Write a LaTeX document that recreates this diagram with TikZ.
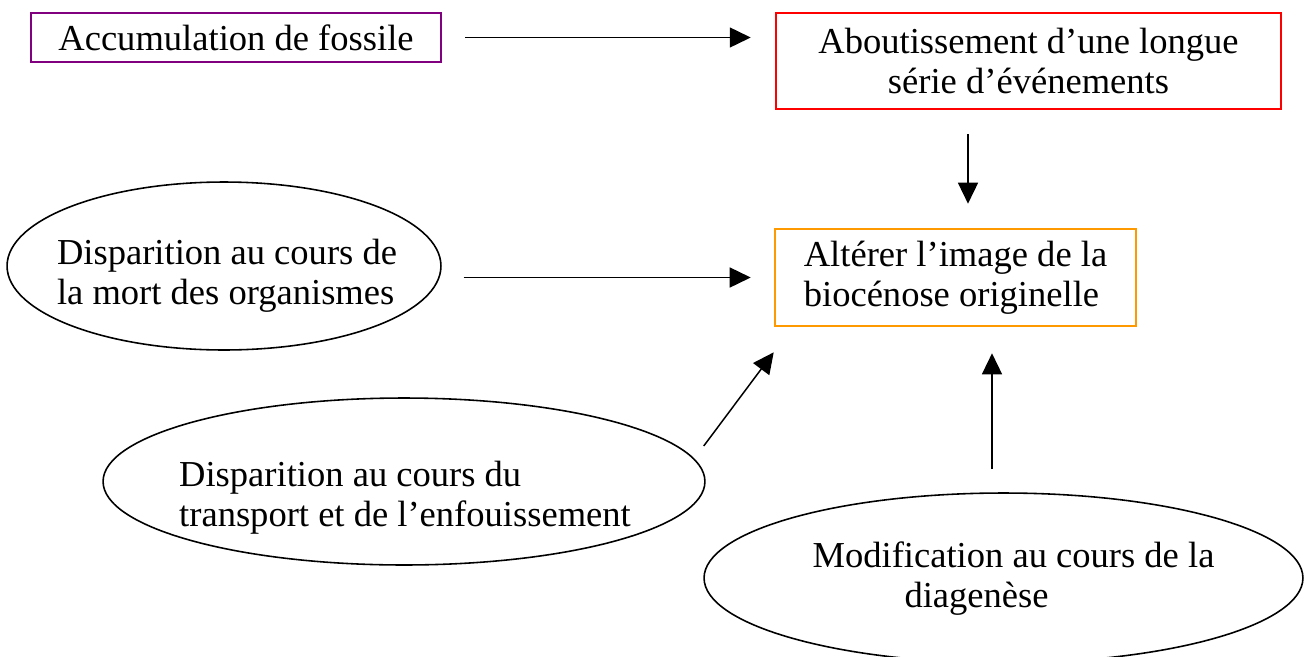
\documentclass[tikz,border=0pt]{standalone}
\usepackage{fontspec}
\setmainfont{Liberation Serif}
\usetikzlibrary{shapes.geometric,arrows.meta,calc}

\definecolor{fossilpurple}{RGB}{128,0,128}
\definecolor{eventred}{RGB}{255,0,0}
\definecolor{imageorange}{RGB}{255,153,0}

\begin{document}
\begin{tikzpicture}[x=0.02cm, y=-0.02cm,
        font=\fontsize{20.8}{22.8}\selectfont,
        box/.style={draw, rectangle, line width=1.5pt, inner sep=0pt},
        oval/.style={draw, ellipse, line width=0.9pt, inner sep=0pt},
        flow/.style={line width=0.85pt, -{Triangle[length=0.42cm, width=0.4cm]}}]
    \useasboundingbox (0,0) rectangle (1308,656);

    \node[box, draw=fossilpurple, minimum width=8.2cm, minimum height=0.98cm] (fossile) at (236,37.5) {Accumulation de fossile};
    \node[box, draw=eventred, minimum width=10.1cm, minimum height=1.92cm, align=center] (events) at (1028.5,61) {Aboutissement d’une longue\\série d’événements};
    \node[box, draw=imageorange, minimum width=7.22cm, minimum height=1.94cm, align=left] (image) at (955.5,277.5) {Altérer l’image de la\\biocénose originelle};

    \node[oval, minimum width=8.68cm, minimum height=3.36cm] (mort) at (224,266) {};
    \node[align=left] (mort text) at (227,276) {Disparition au cours de\\la mort des organismes};

    \node[oval, minimum width=12.04cm, minimum height=3.34cm] (trans) at (404,481.5) {};
    \node[align=left] (trans text) at (405,498) {Disparition au cours du\\transport et de l’enfouissement};

    \node[oval, minimum width=11.98cm, minimum height=3.4cm] (diag) at (1003.5,578) {};
    \node[align=left] (diag text) at (1013.5,579) {Modification au cours de la\\\hspace*{1.84cm}diagenèse};

    \coordinate (drop) at ($(image.north)+(12.5,0)$);
    \coordinate (rise) at ($(diag.north)+(-11.5,0)$);

    \draw[flow, shorten <=0.46cm, shorten >=0.48cm] (fossile.east) -- (fossile.east -| events.west);
    \draw[flow, shorten <=0.48cm, shorten >=0.48cm] (events.south -| drop) -- (drop);
    \draw[flow, shorten <=0.44cm, shorten >=0.46cm] (mort.east |- image.west) -- (image.west);
    \draw[flow] ($(trans.east)+(-2,-35.5)$) -- ($(image.south west)+(0,25)$);
    \draw[flow, shorten <=0.46cm, shorten >=0.52cm] (rise) -- (rise |- image.south);
\end{tikzpicture}
\end{document}
